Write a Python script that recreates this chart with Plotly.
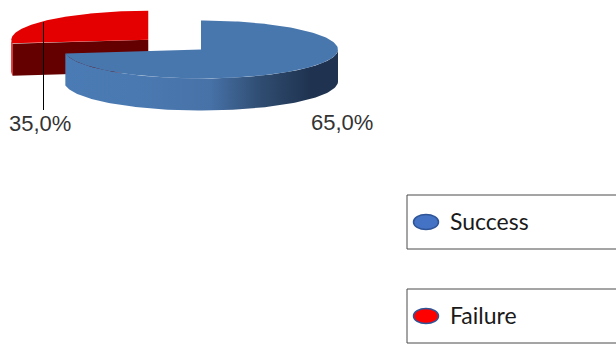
import numpy as np
import plotly.graph_objects as go

# ---- data ----
categories = ["Success", "Failure"]
values = [65.0, 35.0]

# ---- style ----
top_colors = ["#4877ae", "#e40000"]
side_colors = ["#4a7ab3", "#d80000"]
face_colors = ["#2a4468", "#640000"]
legend_fill = ["#4472c4", "#ff0000"]
explode = [0.0, 0.51]
label_pos = [(342, 122), (40, 123)]

W, H = 616, 344
CX, CY = 201, 49.5
RX, RY = 137, 29
DEPTH = 32
WARP = 34.6  # pseudo-perspective angular distortion


def warp(theta):
    return theta - WARP * np.sin(np.radians(theta))


def rim(cx, cy, phi, dy=0.0):
    p = np.radians(phi)
    return cx + RX * np.sin(p), cy - RY * np.cos(p) + dy


total = sum(values)
bounds = np.concatenate([[0], np.cumsum(values) / total * 360])
phis = [warp(b) for b in bounds]

fig = go.Figure()

slices = []
for i in range(len(values)):
    p0, p1 = phis[i], phis[i + 1]
    mid = np.radians((p0 + p1) / 2)
    ox = RX * explode[i] * np.sin(mid)
    oy = -RY * explode[i] * np.cos(mid)
    slices.append((oy, i, p0, p1, CX + ox, CY + oy))
slices.sort()

for _, i, p0, p1, cx, cy in slices:
    # cut faces
    for edge, normal in ((p0, p0 - 90), (p1, p1 + 90)):
        if np.cos(np.radians(normal)) < -0.01:
            xe, ye = rim(cx, cy, edge)
            xs = [cx, xe, xe, cx, cx]
            ys = [cy, ye, ye + DEPTH, cy + DEPTH, cy]
            fig.add_trace(go.Scatter(x=xs, y=ys, fill="toself", mode="lines",
                                     line=dict(width=0), fillcolor=face_colors[i],
                                     hoverinfo="skip"))
    # front side wall
    a, b = max(p0, 90), min(p1, 270)
    if b > a:
        ang = np.linspace(a, b, 120)
        xt, yt = rim(cx, cy, ang)
        xb, yb = rim(cx, cy, ang[::-1], DEPTH)
        xs = np.concatenate([xt, xb, xt[:1]])
        ys = np.concatenate([yt, yb, yt[:1]])
        kw = {}
        if i == 0:
            kw["fillgradient"] = dict(
                type="horizontal", start=float(xs.min()), stop=float(xs.max()),
                colorscale=[[0, "#4b7bb4"], [0.25, "#4a79b1"], [0.53, "#4772a8"],
                            [0.72, "#2f4c70"], [0.9, "#1f3350"], [1, "#1f3350"]])
        else:
            kw["fillcolor"] = side_colors[i]
        fig.add_trace(go.Scatter(x=xs, y=ys, fill="toself", mode="lines",
                                 line=dict(width=0), hoverinfo="skip", **kw))
    # top surface
    ang = np.linspace(p0, p1, 200)
    xr, yr = rim(cx, cy, ang)
    xs = np.concatenate([[cx], xr, [cx]])
    ys = np.concatenate([[cy], yr, [cy]])
    fig.add_trace(go.Scatter(x=xs, y=ys, fill="toself", mode="lines",
                             line=dict(width=0), fillcolor=top_colors[i],
                             hoverinfo="skip"))

# leader line for the small slice label
fig.add_trace(go.Scatter(x=[43.5, 43.5], y=[22, 110], mode="lines",
                         line=dict(color="#000000", width=1), hoverinfo="skip"))

# percentage labels
for i, v in enumerate(values):
    txt = f"{v / total * 100:.1f}%".replace(".", ",")
    fig.add_annotation(x=label_pos[i][0], y=label_pos[i][1], text=txt,
                       showarrow=False, xref="x", yref="y",
                       font=dict(family="Liberation Sans, Arial", size=22, color="#333333"))

# legend boxes
shapes = []
for i, cat in enumerate(categories):
    top = 195 + i * 94
    shapes.append(dict(type="rect", xref="x", yref="y", x0=407, x1=W + 20,
                       y0=top, y1=top + 54, line=dict(color="#4a4a4a", width=1),
                       fillcolor="white", layer="above"))
    cyl = top + 27
    shapes.append(dict(type="circle", xref="x", yref="y", x0=413.5, x1=438.5,
                       y0=cyl - 7.5, y1=cyl + 7.5, fillcolor=legend_fill[i],
                       line=dict(color="#2f5597", width=1.5), layer="above"))
    fig.add_annotation(x=448, y=cyl - 1, text=cat, showarrow=False, xanchor="left",
                       xref="x", yref="y",
                       font=dict(family="Lato, Open Sans", size=23, color="#1a1a1a"))

fig.update_layout(
    width=W, height=H, margin=dict(l=0, r=0, t=0, b=0),
    paper_bgcolor="white", plot_bgcolor="white", showlegend=False,
    xaxis=dict(range=[0, W], visible=False, fixedrange=True),
    yaxis=dict(range=[H, 0], visible=False, fixedrange=True),
    shapes=shapes,
)

fig.write_html("out.html")
